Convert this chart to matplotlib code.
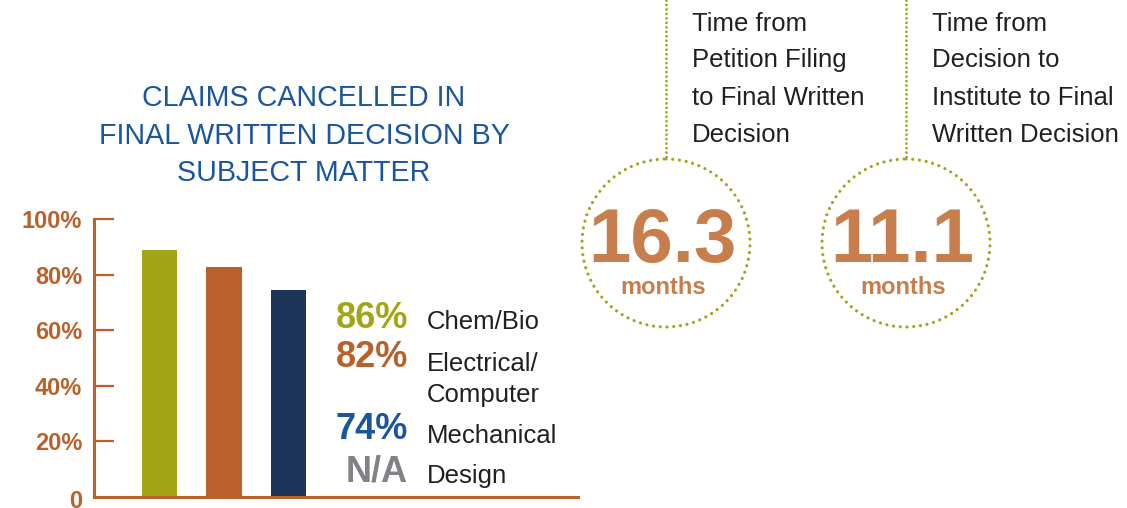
import matplotlib
matplotlib.use("Agg")
import matplotlib.pyplot as plt
from matplotlib.patches import Circle

plt.rcParams['font.family'] = ['Liberation Sans', 'DejaVu Sans']

# bar chart data (bar heights as drawn, labels as printed)
categories = ["Chem/Bio", "Electrical/\nComputer", "Mechanical", "Design"]
pct_labels = ["86%", "82%", "74%", "N/A"]
bar_values = [88.8, 82.7, 74.5]
ytick_vals = [20, 40, 60, 80, 100]
ytick_labels = ["20%", "40%", "60%", "80%", "100%"]

# time callouts
durations = ["16.3", "11.1"]
duration_unit = "months"
duration_desc = [
    ["Time from", "Petition Filing", "to Final Written", "Decision"],
    ["Time from", "Decision to", "Institute to Final", "Written Decision"],
]

title_lines = ["CLAIMS CANCELLED IN", "FINAL WRITTEN DECISION BY", "SUBJECT MATTER"]

orange = "#BA612B"
olive = "#A3A514"
navy = "#1D3558"
blue = "#1A56A0"
gray = "#808285"
months_col = "#C77E4C"
dot_col = "#A3A31C"
text_col = "#231F20"

W, H = 1127, 508
fig = plt.figure(figsize=(W / 100, H / 100), dpi=100)

# ---- bar chart ----
ax = fig.add_axes([94 / W, (H - 497) / H, (578 - 94) / W, (497 - 219) / H])
ax.bar(range(len(bar_values)), bar_values, width=0.543,
       color=[olive, orange, navy], zorder=1)
ax.set_xlim(-1.016, 6.49)
ax.set_ylim(0, 100)
ax.set_yticks(ytick_vals, ytick_labels)
ax.set_xticks([])
ax.tick_params(axis='y', direction='in', length=14.4, width=1.6, color=orange,
               pad=8.6, labelsize=17, labelcolor=orange)
for lab in ax.get_yticklabels():
    lab.set_fontweight('bold')
for s in ['top', 'right']:
    ax.spines[s].set_visible(False)
for s in ['left', 'bottom']:
    ax.spines[s].set_color(orange)
    ax.spines[s].set_linewidth(2.2)
ax.spines['left'].set_bounds(0, 100)
ax.annotate("0", xy=(0, 0), xycoords=('axes fraction', 'data'),
            xytext=(-8.6, -3.3), textcoords='offset points',
            ha='right', va='center', fontsize=17, fontweight='bold',
            color=orange, annotation_clip=False)

# ---- overlay in pixel coordinates ----
ov = fig.add_axes([0, 0, 1, 1])
ov.set_xlim(0, W)
ov.set_ylim(H, 0)
ov.axis('off')
ov.patch.set_alpha(0)

title_base = [106, 144, 181]
for line, yb in zip(title_lines, title_base):
    ov.text(304, yb, line, ha='center', va='baseline', fontsize=20.6, color=blue)

num_cols = [olive, orange, blue, gray]
num_base = [328, 367, 439, 482]
for lab, col, yb in zip(pct_labels, num_cols, num_base):
    ov.text(408, yb, lab, ha='right', va='baseline', fontsize=26,
            fontweight='bold', color=col)

cat_base = [[329], [371, 402], [443], [483]]
for cat, bases in zip(categories, cat_base):
    for part, yb in zip(cat.split("\n"), bases):
        ov.text(427, yb, part, ha='left', va='baseline', fontsize=18.5,
                color=text_col)

# callouts
cx = [666, 906]
cy = 243
text_x = [692, 932]
desc_base = [30.7, 67.3, 104.7, 141.7]
for i, val in enumerate(durations):
    ov.plot([cx[i], cx[i]], [0, cy - 84], color=dot_col, lw=2.0,
            linestyle=(0, (0.01, 1.6)), dash_capstyle='round',
            solid_capstyle='round')
    ov.add_patch(Circle((cx[i], cy), 84, fill=False, edgecolor=dot_col,
                        lw=2.3, linestyle=(0, (0.01, 2.1)), capstyle='round'))
    ov.text(cx[i] - 4, 262, val, ha='center', va='baseline', fontsize=55,
            fontweight='bold', color=months_col)
    ov.text(cx[i] - 3, 294, duration_unit, ha='center', va='baseline',
            fontsize=17, fontweight='bold', color=months_col)
    for line, yb in zip(duration_desc[i], desc_base):
        ov.text(text_x[i], yb, line, ha='left', va='baseline', fontsize=18.5,
                color=text_col)

fig.savefig("out.png", dpi=100)
